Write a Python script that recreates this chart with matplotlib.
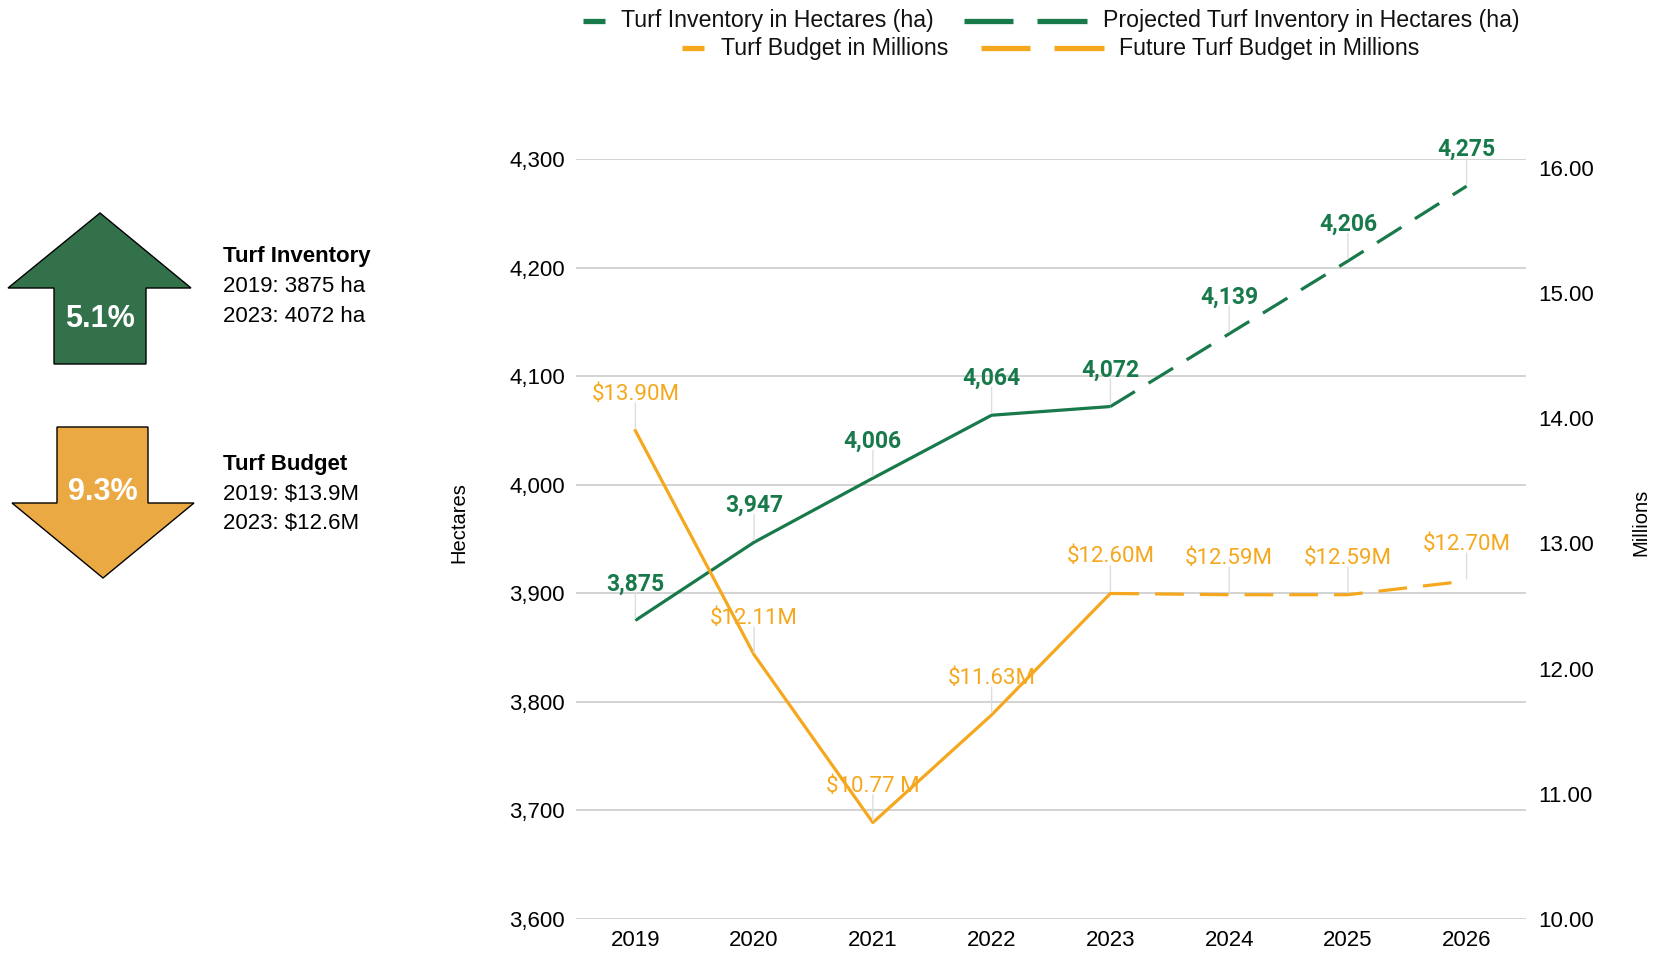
import numpy as np
import matplotlib
matplotlib.use("Agg")
import matplotlib.pyplot as plt
from matplotlib.patches import Polygon
from matplotlib.lines import Line2D

# ---- data ----
years = [2019, 2020, 2021, 2022, 2023, 2024, 2025, 2026]
inv_years = [2019, 2020, 2021, 2022, 2023]
inventory = [3875, 3947, 4006, 4064, 4072]
proj_years = [2023, 2024, 2025, 2026]
projected = [4072, 4139, 4206, 4275]
budget = [13.90, 12.11, 10.77, 11.63, 12.60]
future_budget = [12.60, 12.59, 12.59, 12.70]
left_ticks = [3600, 3700, 3800, 3900, 4000, 4100, 4200, 4300]
right_ticks = [10, 11, 12, 13, 14, 15, 16]

GREEN = "#18794A"
ORANGE = "#F5A81E"
ARROW_GREEN = "#33714B"
ARROW_ORANGE = "#EBA943"
SANS = ["Liberation Sans", "DejaVu Sans"]
LABEL_FONT = ["Roboto", "DejaVu Sans"]

plt.rcParams["font.family"] = SANS

W, H = 1658, 955
fig = plt.figure(figsize=(W / 100, H / 100), dpi=100)

# main axes (pixel box: x 576..1526, y 159..919)
ax = fig.add_axes([576 / W, 1 - 919 / H, 950 / W, 760 / H])
ax2 = ax.twinx()

ax.plot(inv_years, inventory, color=GREEN, lw=2.3, solid_capstyle="butt", zorder=3)
ax.plot(proj_years, projected, color=GREEN, lw=2.3, ls=(0, (9, 5)), zorder=3)
ax2.plot(inv_years, budget, color=ORANGE, lw=2.3, zorder=3)
ax2.plot(proj_years, future_budget, color=ORANGE, lw=2.3, ls=(0, (9, 5)), zorder=3)


def label_points(axis, xs, ys, texts, color, weight, size):
    for x, y, t in zip(xs, ys, texts):
        axis.annotate("", xy=(x, y), xytext=(0, 20), textcoords="offset points",
                      xycoords="data",
                      arrowprops=dict(arrowstyle="-", color="#dddddd", lw=1.0,
                                      shrinkA=0, shrinkB=1.5))
        axis.annotate(t, xy=(x, y), xytext=(0, 26.3), textcoords="offset points",
                      ha="center", va="center", color=color, fontsize=size,
                      fontweight=weight, family=LABEL_FONT, zorder=5)


inv_all = inventory + projected[1:]
bud_all = budget + future_budget[1:]
label_points(ax, years, inv_all, [f"{v:,}" for v in inv_all], GREEN, "bold", 16.5)
bud_texts = [f"${v:.2f}M" for v in bud_all]
bud_texts[2] = "$10.77 M"
label_points(ax2, years, bud_all, bud_texts, ORANGE, "normal", 16)

ax.set_xlim(2018.5, 2026.5)
ax.set_ylim(3600, 4300)
ax.set_yticks(left_ticks)
ax.set_yticklabels([f"{v:,}" for v in left_ticks])
ax.set_xticks(years)
ax2.set_ylim(10, 16.07)
ax2.set_yticks(right_ticks)
ax2.set_yticklabels([f"{v:.2f}" for v in right_ticks])

ax.yaxis.grid(True, color="#cccccc", lw=1.2)
ax.set_axisbelow(True)
for a in (ax, ax2):
    for s in a.spines.values():
        s.set_visible(False)
ax.tick_params(axis="both", length=0, labelsize=16, pad=8)
ax2.tick_params(axis="y", length=0, labelsize=16, pad=9)

ax.set_ylabel("Hectares", fontsize=14.5, va="center")
ax.yaxis.set_label_coords(-0.123, 0.522)
ax2.set_ylabel("Millions", fontsize=14.5, va="center")
ax2.yaxis.set_label_coords(1.121, 0.522)

# overlay in pixel coordinates for legend and side panel
ov = fig.add_axes([0, 0, 1, 1], zorder=-1)
ov.set_xlim(0, W)
ov.set_ylim(H, 0)
ov.axis("off")
ov.patch.set_alpha(0)

# legend rows
def leg_solid(x0, x1, y, c):
    ov.add_line(Line2D([x0, x1], [y, y], color=c, lw=3.8, solid_capstyle="butt"))


def leg_dash(x0, x1, y, c):
    seg = (x1 - x0 - 24) / 2
    ov.add_line(Line2D([x0, x0 + seg], [y, y], color=c, lw=3.8, solid_capstyle="butt"))
    ov.add_line(Line2D([x1 - seg, x1], [y, y], color=c, lw=3.8, solid_capstyle="butt"))


leg_font = dict(fontsize=16.7, va="center", ha="left", color="#111111")
row1, row2 = 21, 48
leg_solid(583, 605, row1, GREEN)
ov.text(621, row1, "Turf Inventory in Hectares (ha)", **leg_font)
leg_dash(964, 1087, row1, GREEN)
ov.text(1103, row1, "Projected Turf Inventory in Hectares (ha)", **leg_font)
leg_solid(682, 704, row2, ORANGE)
ov.text(721, row2, "Turf Budget in Millions", **leg_font)
leg_dash(981, 1104, row2, ORANGE)
ov.text(1119, row2, "Future Turf Budget in Millions", **leg_font)

# arrows
up = [(100, 213), (191, 288), (146, 288), (146, 364), (54, 364), (54, 288), (8, 288)]
down = [(57, 427), (148, 427), (148, 503), (194, 503), (103, 578), (12, 503), (57, 503)]
ov.add_patch(Polygon(up, closed=True, facecolor=ARROW_GREEN, edgecolor="black", lw=1))
ov.add_patch(Polygon(down, closed=True, facecolor=ARROW_ORANGE, edgecolor="black", lw=1))
ov.text(100, 319, "5.1%", color="white", fontsize=22, fontweight="bold", ha="center", va="center")
ov.text(103, 492, "9.3%", color="white", fontsize=22, fontweight="bold", ha="center", va="center")

side = dict(fontsize=16, ha="left", va="center", color="black")
ov.text(223, 256, "Turf Inventory", fontweight="bold", **side)
ov.text(223, 286, "2019: 3875 ha", **side)
ov.text(223, 316, "2023: 4072 ha", **side)
ov.text(223, 464, "Turf Budget", fontweight="bold", **side)
ov.text(223, 494, "2019: $13.9M", **side)
ov.text(223, 523, "2023: $12.6M", **side)

fig.savefig("out.png", dpi=100)
